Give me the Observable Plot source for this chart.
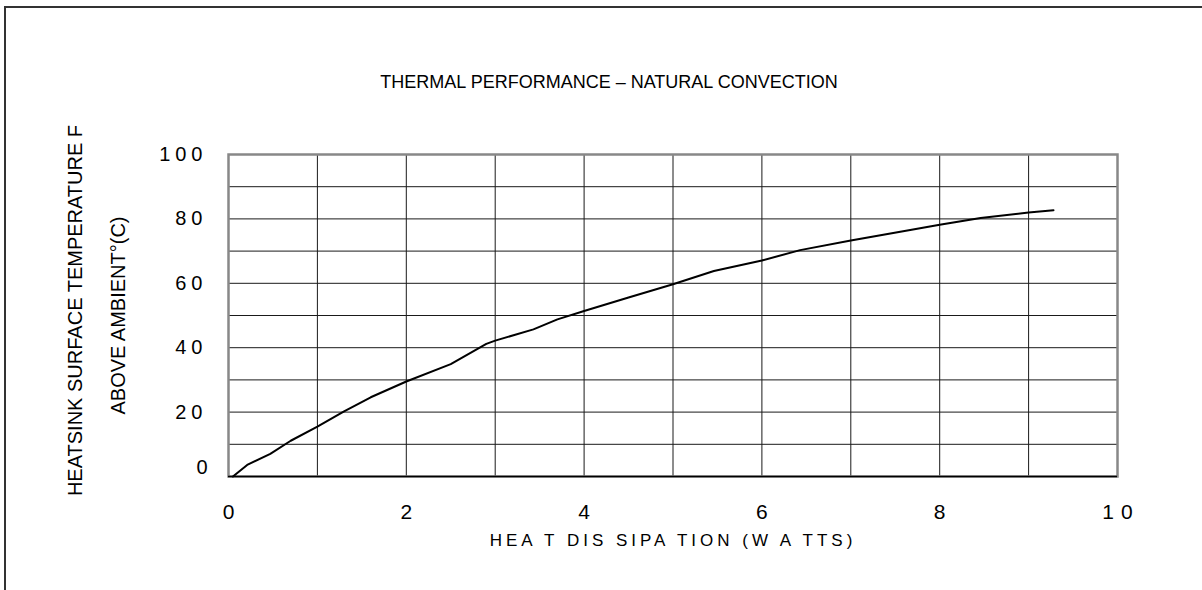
<!DOCTYPE html>
<html><head><meta charset="utf-8">
<script src="https://cdn.jsdelivr.net/npm/d3@7"></script>
<script src="https://cdn.jsdelivr.net/npm/@observablehq/plot@0.6"></script>
<style>
html,body{margin:0;padding:0;background:#fff;overflow:hidden;}
#wrap{position:relative;width:1202px;height:590px;}
#border{position:absolute;left:4px;top:6px;width:1300px;height:700px;border-left:2px solid #333;border-top:2px solid #333;}
#wrap svg{position:absolute;left:0;top:0;}
</style></head><body><div id="wrap"><div id="border"></div></div>
<script>
// Heat dissipation (W) vs. heatsink temperature rise above ambient (°C)
const watts    = [0.05, 0.21, 0.47, 0.70, 1.00, 1.30, 1.60, 2.00, 2.50, 2.90, 3.00, 3.43, 3.70, 4.00, 4.50, 5.00, 5.46, 6.00, 6.43, 7.00, 7.70, 8.00, 8.46, 9.00, 9.28];
const tempRise = [0.0,  3.6,  7.0,  11.1, 15.5, 20.2, 24.6, 29.5, 34.9, 41.2, 42.2, 45.7, 48.8, 51.4, 55.6, 59.7, 63.8, 67.1, 70.3, 73.3, 76.7, 78.2, 80.3, 82.0, 82.7];

const xTicks = [0, 2, 4, 6, 8, 10];
const yTicks = [0, 20, 40, 60, 80, 100];
const xGrid = [1, 2, 3, 4, 5, 6, 7, 8, 9];
const yGrid = [10, 20, 30, 40, 50, 60, 70, 80, 90];

const titleText = "THERMAL PERFORMANCE \u2013 NATURAL CONVECTION";
const xLabelText = "HEA T DIS SIPA TION (W A TTS)";
const yLabel1 = "HEATSINK SURFACE TEMPERATURE F";
const yLabel2 = "ABOVE AMBIENT\u00B0(C)";

const data = watts.map((w, i) => ({w, t: tempRise[i]}));

const chart = Plot.plot({
  width: 1202, height: 590,
  marginLeft: 228, marginRight: 85, marginTop: 154, marginBottom: 114,
  x: {domain: [0, 10]},
  y: {domain: [0, 100]},
  style: {fontFamily: "'Liberation Sans', Arial, sans-serif", background: "transparent", color: "#000"},
  marks: [
    Plot.gridX(xGrid, {stroke: "#1a1a1a", strokeOpacity: 1, strokeWidth: 1}),
    Plot.gridY(yGrid, {stroke: "#1a1a1a", strokeOpacity: 1, strokeWidth: 1}),
    Plot.frame({stroke: "#888", strokeWidth: 2.5}),
    Plot.ruleY([0], {stroke: "#000", strokeWidth: 1.3}),
    Plot.axisX(xTicks, {tickSize: 0, tickPadding: 28, fontSize: 21, label: null, dx: 3.5}),
    Plot.axisY(yTicks.filter(d => d > 0), {tickSize: 0, tickPadding: 21, fontSize: 20, label: null}),
    Plot.text([0], {x: 0, y: d => d, text: d => String(d), textAnchor: "end", dx: -21, dy: -9, fontSize: 20}),
    Plot.line(data, {x: "w", y: "t", stroke: "#000", strokeWidth: 2, curve: "linear"}),
    Plot.text([titleText], {frameAnchor: "top", dx: -64, dy: -72, fontSize: 18, lineAnchor: "middle"}),
    Plot.text([xLabelText], {frameAnchor: "bottom", dy: 64, fontSize: 17, lineAnchor: "middle", dx: 0}),
    Plot.text([yLabel1], {frameAnchor: "left", textAnchor: "middle", dx: -153, dy: -5, fontSize: 20, rotate: -90, lineAnchor: "middle"}),
    Plot.text([yLabel2], {frameAnchor: "left", textAnchor: "middle", dx: -110, dy: 0, fontSize: 20, rotate: -90, lineAnchor: "middle"})
  ]
});
const svg = d3.select(chart);
svg.selectAll("g[aria-label='x-axis tick label']").attr("letter-spacing", "7px");
svg.selectAll("g[aria-label='y-axis tick label']").attr("letter-spacing", "5px");
svg.selectAll("g[aria-label='text'] text").filter(function(){return this.textContent === xLabelText;}).attr("letter-spacing", "4px");
document.getElementById("wrap").appendChild(chart);
</script>
</body></html>
